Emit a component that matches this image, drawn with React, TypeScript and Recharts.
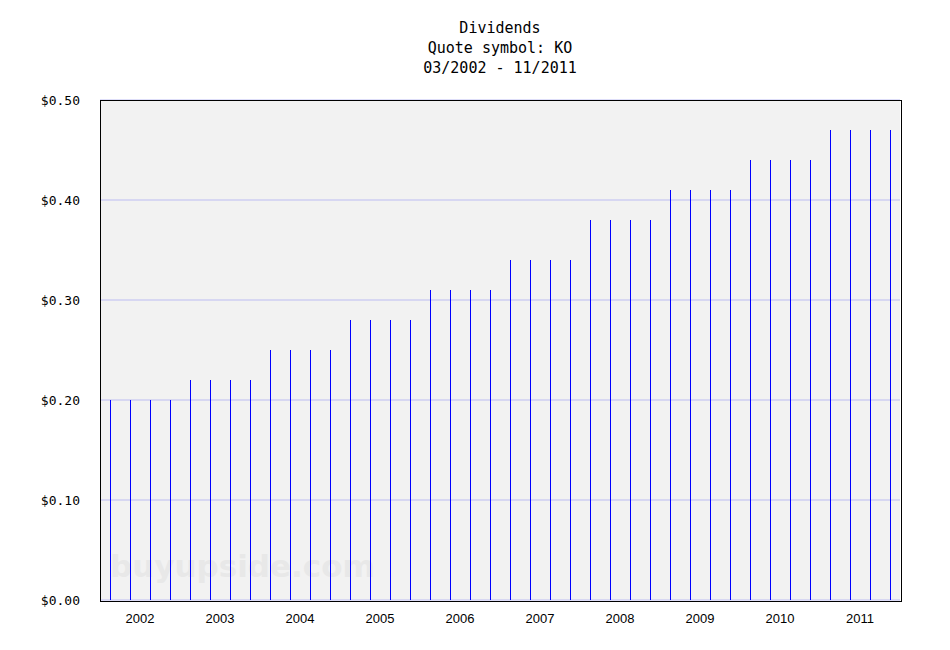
import { BarChart, Bar, XAxis, YAxis, CartesianGrid } from 'recharts';

const payDates = [
  '03/2002', '06/2002', '09/2002', '11/2002',
  '03/2003', '06/2003', '09/2003', '11/2003',
  '03/2004', '06/2004', '09/2004', '11/2004',
  '03/2005', '06/2005', '09/2005', '11/2005',
  '03/2006', '06/2006', '09/2006', '11/2006',
  '03/2007', '06/2007', '09/2007', '11/2007',
  '03/2008', '06/2008', '09/2008', '11/2008',
  '03/2009', '06/2009', '09/2009', '11/2009',
  '03/2010', '06/2010', '09/2010', '11/2010',
  '03/2011', '06/2011', '09/2011', '11/2011',
];

const dividends = [
  0.2, 0.2, 0.2, 0.2,
  0.22, 0.22, 0.22, 0.22,
  0.25, 0.25, 0.25, 0.25,
  0.28, 0.28, 0.28, 0.28,
  0.31, 0.31, 0.31, 0.31,
  0.34, 0.34, 0.34, 0.34,
  0.38, 0.38, 0.38, 0.38,
  0.41, 0.41, 0.41, 0.41,
  0.44, 0.44, 0.44, 0.44,
  0.47, 0.47, 0.47, 0.47,
];

const yTicks = [0, 0.1, 0.2, 0.3, 0.4, 0.5];

const data = payDates.map((date, i) => ({ date, value: dividends[i] }));

const mono = '"DejaVu Sans Mono", monospace';

function StickBar(props: any) {
  const { x, y, width, height } = props;
  if (!height) return null;
  return <rect x={Math.floor(x + width / 2)} y={y} width={1} height={height} fill="#0000ff" shapeRendering="crispEdges" />;
}

function YearTick(props: any) {
  const { x, y, payload, index } = props;
  if (index % 4 !== 1) return null;
  return (
    <text x={x + 10} y={y + 15} textAnchor="middle" fontFamily='"Liberation Sans", Arial, sans-serif' fontSize={13} fill="#000">
      {payload.value.slice(3)}
    </text>
  );
}

export default function App() {
  return (
    <div style={{ position: 'absolute', left: 0, top: 0, width: 950, height: 650, background: '#fff' }}>
      <div style={{ position: 'absolute', left: 0, top: 18, width: 1000, textAlign: 'center', fontFamily: mono, fontSize: 15, lineHeight: '20px', color: '#000' }}>
        <div>Dividends</div>
        <div>Quote symbol: KO</div>
        <div>03/2002 - 11/2011</div>
      </div>
      <div style={{ position: 'absolute', left: 100, top: 100, width: 800, height: 500, background: '#f2f2f2' }} />
      <div style={{ position: 'absolute', left: 110, top: 546, fontFamily: '"DejaVu Sans", sans-serif', fontWeight: 'bold', fontSize: 31, color: '#e8e8e8', lineHeight: '40px' }}>
        buyupside.com
      </div>
      <div style={{ position: 'absolute', left: 0, top: 0 }}>
        <BarChart width={950} height={650} data={data} margin={{ top: 100, right: 50, bottom: 20, left: 0 }} barCategoryGap={0}>
          <CartesianGrid vertical={false} stroke="#bcbcf2" fill="none" />
          <XAxis dataKey="date" height={30} interval={0} tickLine={false} axisLine={false} tick={<YearTick />} />
          <YAxis
            width={100}
            domain={[0, 0.5]}
            ticks={yTicks}
            tickLine={false}
            axisLine={false}
            tickSize={0}
            tickMargin={20}
            tickFormatter={(v: number) => `$${v.toFixed(2)}`}
            tick={{ fontFamily: mono, fontSize: 13, fill: '#000' }}
          />
          <Bar dataKey="value" shape={<StickBar />} isAnimationActive={false} />
        </BarChart>
      </div>
      <div style={{ position: 'absolute', left: 100, top: 100, width: 800, height: 500, border: '1px solid #000', pointerEvents: 'none' }} />
    </div>
  );
}
